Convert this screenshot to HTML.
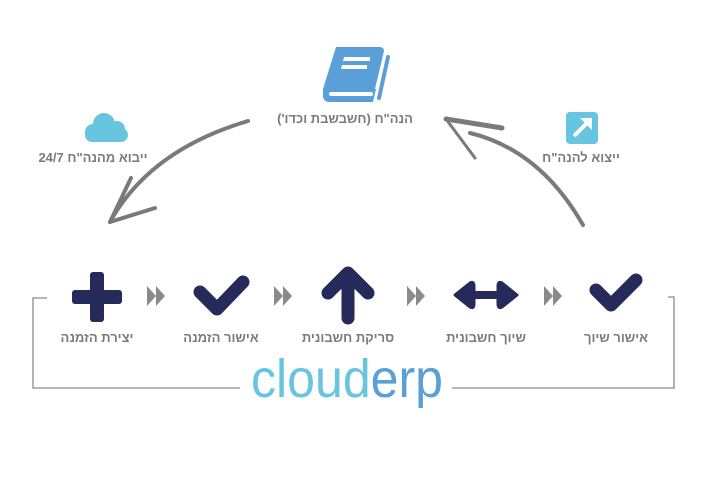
<!DOCTYPE html>
<html><head><meta charset="utf-8"><style>
html,body{margin:0;padding:0;background:#fff;}
svg{display:block}
text{font-family:"Liberation Sans",sans-serif;}
.lb{font-size:13px;font-weight:bold;fill:#7a7a7a;text-anchor:middle;}
</style></head><body>
<svg width="722" height="486" viewBox="0 0 722 486" xmlns="http://www.w3.org/2000/svg">
<!-- book -->
<g>
<path d="M336 47 h44 a4 4 0 0 1 4 4 l-9 38 h-52 z" fill="#5b9fd8"/>
<path d="M323 89 h53 l-3 13 h-44 a6 6 0 0 1 -6 -6 z" fill="#5b9fd8"/>
<rect x="329" y="92" width="44" height="4" rx="2" fill="#fff"/>
<path d="M388 57 l-9 41" stroke="#5b9fd8" stroke-width="4" stroke-linecap="round"/>
<path d="M344 57 h26 v4 h-27 z" fill="#fff"/>
<path d="M342 65 h25 v4 h-26 z" fill="#fff"/>
</g>
<text class="lb" x="345" y="123" direction="rtl">הנה"ח (חשבשבת וכדו')</text>
<!-- cloud -->
<g fill="#67c5df">
<circle cx="104" cy="124" r="11"/><circle cx="117" cy="129" r="8"/><circle cx="93" cy="132" r="8"/>
<rect x="85" y="128" width="43" height="14" rx="7"/>
</g>
<text class="lb" x="93" y="162" direction="rtl">ייבוא מהנה"ח 24/7</text>
<!-- export icon -->
<rect x="566" y="112" width="32" height="32" rx="4" fill="#67c5df"/>
<path d="M574 136 L589 121" stroke="#fff" stroke-width="4"/>
<path d="M580 118 L592 118 L592 130 Z" fill="#fff"/>
<text class="lb" x="581" y="162" direction="rtl">ייצוא להנה"ח</text>
<!-- curved arrows -->
<g fill="none" stroke="#7a7a7a" stroke-linecap="round">
<path d="M248 121 Q150 150 110 222" stroke-width="4"/>
<path d="M110 222 L131 178" stroke-width="4"/>
<path d="M110 222 L155 208" stroke-width="4"/>
<path d="M583 225 Q540 150 470 133" stroke-width="4"/>
<path d="M446 119 L502 128" stroke-width="5"/>
<path d="M446 119 L475 158" stroke-width="3"/>
</g>
<!-- bracket -->
<g fill="none" stroke="#8a8a8a" stroke-width="1.3">
<path d="M47 298 H33 V388 H240"/>
<path d="M668 297 H674 V388 H452"/>
</g>
<!-- icons -->
<g fill="#252a5a">
<rect x="90" y="272" width="14" height="50" rx="3"/>
<rect x="72" y="290" width="50" height="14" rx="3"/>
</g>
<g fill="none" stroke="#252a5a" stroke-width="13" stroke-linecap="round" stroke-linejoin="round">
<path d="M200 292 L217 309 L243 282"/>
<path d="M596 290 L611 305 L636 280"/>
<path d="M348 318 V276 M328 293 L348 273 L368 293"/>
</g>
<g fill="#252a5a">
<rect x="464" y="291" width="44" height="8" rx="2"/>
<path d="M455 295 L470 283 Q474 281 474 286 V304 Q474 309 470 307 Z" stroke="#252a5a" stroke-width="3" stroke-linejoin="round"/>
<path d="M517 295 L502 283 Q498 281 498 286 V304 Q498 309 502 307 Z" stroke="#252a5a" stroke-width="3" stroke-linejoin="round"/>
</g>
<!-- double triangles -->
<g fill="#8a8a8a">
<path d="M147 286 L156 296 L147 306Z M156 286 L165 296 L156 306Z"/>
<path d="M274 286 L283 296 L274 306Z M283 286 L292 296 L283 306Z"/>
<path d="M407 286 L416 296 L407 306Z M416 286 L425 296 L416 306Z"/>
<path d="M544 286 L553 296 L544 306Z M553 286 L562 296 L553 306Z"/>
</g>
<text class="lb" x="97" y="342" direction="rtl">יצירת הזמנה</text>
<text class="lb" x="221" y="342" direction="rtl">אישור הזמנה</text>
<text class="lb" x="348" y="342" direction="rtl">סריקת חשבונית</text>
<text class="lb" x="486" y="342" direction="rtl">שיוך חשבונית</text>
<text class="lb" x="616" y="342" direction="rtl">אישור שיוך</text>
<!-- logo -->
<text x="251" y="397" font-size="54" textLength="192" lengthAdjust="spacingAndGlyphs" style="font-weight:normal"><tspan fill="#67c5df">cloud</tspan><tspan fill="#5b9fd8">erp</tspan></text>
</svg>
</body></html>
